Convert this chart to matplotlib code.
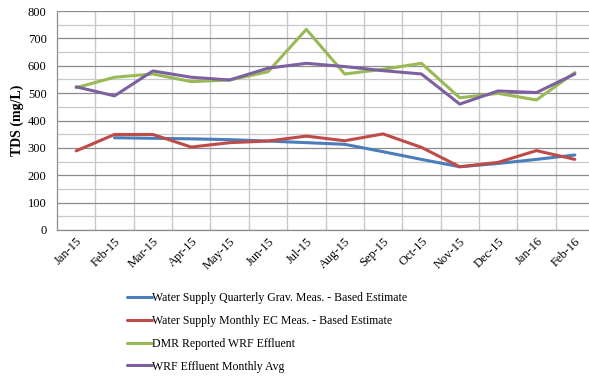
import matplotlib
matplotlib.use("Agg")
import matplotlib.pyplot as plt
import numpy as np

months = ["Jan-15", "Feb-15", "Mar-15", "Apr-15", "May-15", "Jun-15", "Jul-15",
          "Aug-15", "Sep-15", "Oct-15", "Nov-15", "Dec-15", "Jan-16", "Feb-16"]
quarterly_grav = [np.nan, 337, 335, 333, 330, 325, 319, 313, 286, 258, 231, 243, 258, 274]
monthly_ec = [289, 349, 349, 303, 319, 325, 343, 326, 351, 302, 231, 247, 290, 258]
dmr_effluent = [520, 558, 570, 542, 548, 578, 733, 570, 587, 609, 483, 499, 475, 575]
wrf_monthly = [523, 490, 581, 558, 548, 591, 609, 597, 582, 570, 460, 508, 502, 570]

series_names = ["Water Supply Quarterly Grav. Meas. - Based Estimate",
                "Water Supply Monthly EC Meas. - Based Estimate",
                "DMR Reported WRF Effluent",
                "WRF Effluent Monthly Avg"]
colors = ["#4A7EBB", "#BE4B48", "#98B954", "#7D60A0"]

plt.rcParams['font.family'] = ['Liberation Serif', 'DejaVu Serif']

W, H = 589, 378
fig = plt.figure(figsize=(W / 100, H / 100), dpi=100)
left, right, top, bottom = 57, 594, 11, 230
ax = fig.add_axes([left / W, 1 - bottom / H, (right - left) / W, (bottom - top) / H])

x = np.arange(len(months))
for vals, c, name in zip([quarterly_grav, monthly_ec, dmr_effluent, wrf_monthly], colors, series_names):
    ax.plot(x, vals, color=c, lw=2.2, label=name, solid_capstyle='round', zorder=3)

ax.set_xlim(-0.5, len(months) - 0.5)
ax.set_ylim(0, 800)
ax.set_yticks(np.arange(0, 801, 100))
ax.set_yticks(np.arange(50, 800, 100), minor=True)
ax.set_xticks(x)
ax.set_xticks(np.arange(0.5, len(months) - 0.5, 1), minor=True)
ax.set_xticklabels(months, rotation=45, ha='right', va='top', rotation_mode='anchor', fontsize=9)
ax.tick_params(axis='y', which='both', length=0, labelsize=9, pad=7.5)
ax.tick_params(axis='x', which='both', length=0, pad=4)

ax.grid(True, axis='y', which='major', color='#8c8c8c', lw=0.9, zorder=0)
ax.grid(True, axis='y', which='minor', color='#c8c8c8', lw=0.9, zorder=0)
ax.grid(True, axis='x', which='minor', color='#c8c8c8', lw=1.0, zorder=0)
ax.grid(False, axis='x', which='major')

for s in ['top', 'right']:
    ax.spines[s].set_visible(False)
ax.spines['left'].set_color('#8c8c8c')
ax.spines['bottom'].set_color('#8c8c8c')
ax.spines['left'].set_linewidth(0.9)
ax.spines['bottom'].set_linewidth(0.9)

ax.set_ylabel("TDS (mg/L)", fontsize=10, fontweight='bold', labelpad=3)

handles, labels = ax.get_legend_handles_labels()
fig.legend(handles, labels, loc='upper left', bbox_to_anchor=(127 / W, 1 - 292 / H),
           frameon=False, fontsize=8.5, handlelength=2.1, handletextpad=0.05,
           labelspacing=0.92, borderpad=0, borderaxespad=0)

fig.savefig("out.png", dpi=100)
